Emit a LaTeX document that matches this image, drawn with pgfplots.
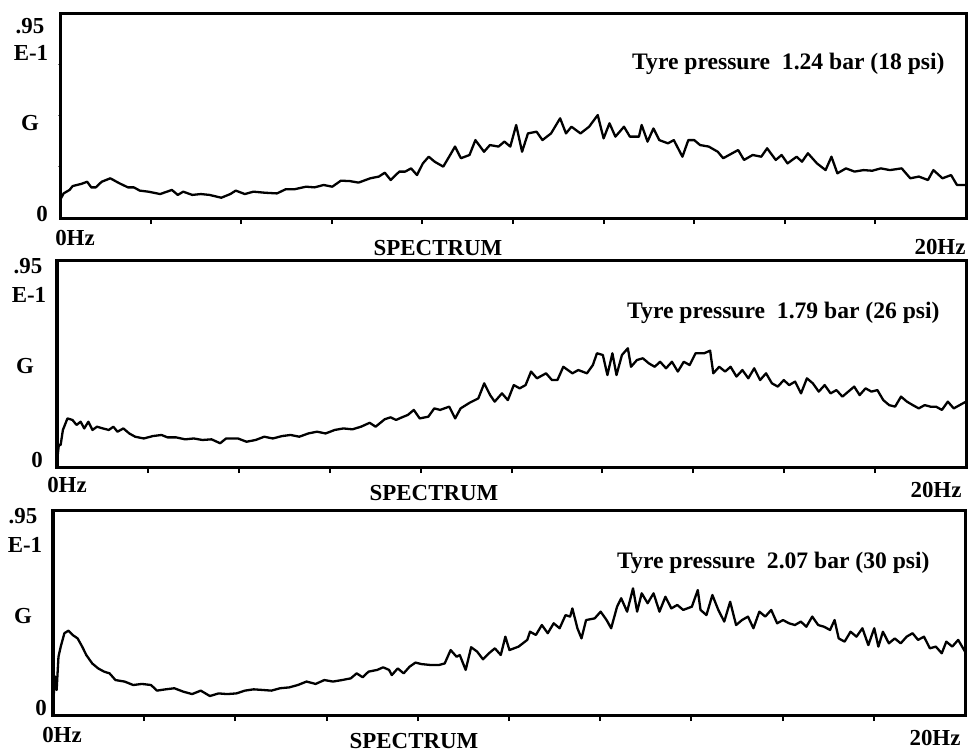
\documentclass[border=0pt]{standalone}
\usepackage{pgfplots}
\pgfplotsset{compat=1.18}
\usepackage{fontspec}
\setmainfont{Liberation Serif}
\pgfplotsset{spec/.style={scale only axis, xmin=0, xmax=20, ymin=0, ymax=0.95,
  axis line style={line width=3bp, black},
  xtick={2,4,...,18}, ytick={0.2375,0.475,0.7125},
  xticklabels={}, yticklabels={},
  tick align=outside, xtick pos=bottom, ytick pos=left,
  major tick length=6bp,
  xtick style={line width=2bp, black},
  ytick style={line width=1bp, black!55, /pgfplots/major tick length=2bp},
  anchor=south west}}
\newcommand{\lbl}{\fontsize{23}{26}\selectfont\bfseries}
\newcommand{\tyre}{\fontsize{23.7}{26}\selectfont\bfseries}
\begin{document}
\begin{tikzpicture}
\useasboundingbox (0,0) rectangle (972bp,-752bp);
% ---------- Panel 1 ----------
\begin{axis}[spec, at={(60bp,-218bp)}, width=906bp, height=205bp]
\addplot[black, line width=2.3bp, line join=round, no marks] table {
x y
0 0.083
0.08 0.114
0.21 0.130
0.28 0.148
0.47 0.158
0.60 0.168
0.69 0.142
0.79 0.142
0.92 0.168
1.11 0.184
1.31 0.161
1.50 0.142
1.63 0.142
1.76 0.127
1.95 0.122
2.21 0.111
2.47 0.130
2.60 0.107
2.72 0.122
2.92 0.107
3.11 0.111
3.30 0.107
3.56 0.094
3.76 0.111
3.88 0.127
4.08 0.111
4.27 0.122
4.53 0.117
4.79 0.114
4.98 0.133
5.17 0.133
5.43 0.145
5.62 0.142
5.82 0.153
6.01 0.145
6.20 0.173
6.40 0.171
6.59 0.164
6.85 0.184
7.04 0.192
7.17 0.210
7.30 0.176
7.49 0.215
7.62 0.215
7.75 0.230
7.88 0.199
8.01 0.253
8.14 0.284
8.27 0.261
8.46 0.238
8.59 0.284
8.72 0.331
8.85 0.277
9.04 0.292
9.17 0.361
9.36 0.307
9.49 0.338
9.68 0.331
9.81 0.354
9.94 0.331
10.07 0.431
10.20 0.307
10.33 0.392
10.52 0.400
10.65 0.361
10.84 0.392
11.04 0.462
11.17 0.392
11.29 0.423
11.49 0.392
11.68 0.423
11.87 0.477
12.00 0.369
12.13 0.439
12.26 0.377
12.45 0.423
12.58 0.377
12.78 0.377
12.84 0.431
12.97 0.354
13.10 0.415
13.23 0.361
13.42 0.346
13.55 0.361
13.74 0.284
13.87 0.361
14.00 0.361
14.13 0.338
14.32 0.331
14.52 0.307
14.64 0.277
14.77 0.292
14.97 0.315
15.10 0.269
15.29 0.292
15.48 0.284
15.61 0.323
15.80 0.269
15.93 0.292
16.06 0.253
16.26 0.284
16.38 0.261
16.51 0.300
16.71 0.253
16.90 0.222
17.03 0.284
17.16 0.207
17.35 0.230
17.54 0.215
17.74 0.222
17.93 0.219
18.12 0.230
18.32 0.222
18.58 0.230
18.77 0.184
18.96 0.192
19.16 0.176
19.28 0.222
19.48 0.184
19.67 0.199
19.80 0.153
20.00 0.153
};
\end{axis}
% ---------- Panel 2 ----------
\begin{axis}[spec, at={(57bp,-467bp)}, width=909bp, height=207bp]
\addplot[black, line width=2.3bp, line join=round, no marks] table {
x y
0 0.002
0.00 0.024
0.04 0.101
0.08 0.101
0.13 0.170
0.23 0.223
0.34 0.216
0.43 0.193
0.52 0.208
0.60 0.177
0.69 0.208
0.78 0.170
0.88 0.185
1.01 0.177
1.14 0.170
1.24 0.185
1.33 0.162
1.46 0.177
1.59 0.154
1.72 0.139
1.91 0.131
2.11 0.142
2.30 0.147
2.43 0.136
2.62 0.136
2.82 0.127
3.01 0.131
3.20 0.124
3.40 0.127
3.59 0.109
3.72 0.131
3.98 0.131
4.17 0.116
4.37 0.124
4.56 0.139
4.75 0.131
4.95 0.142
5.14 0.147
5.33 0.139
5.53 0.154
5.72 0.162
5.91 0.154
6.11 0.170
6.30 0.177
6.50 0.173
6.69 0.185
6.88 0.203
7.01 0.185
7.21 0.219
7.34 0.228
7.46 0.216
7.59 0.228
7.72 0.239
7.85 0.262
7.98 0.223
8.17 0.231
8.30 0.269
8.43 0.262
8.63 0.277
8.76 0.223
8.88 0.269
9.08 0.295
9.27 0.315
9.40 0.384
9.53 0.330
9.63 0.300
9.79 0.338
9.92 0.307
10.05 0.376
10.18 0.361
10.31 0.376
10.43 0.438
10.56 0.407
10.76 0.430
10.89 0.399
11.01 0.399
11.14 0.460
11.34 0.430
11.47 0.445
11.66 0.430
11.79 0.468
11.88 0.522
12.01 0.514
12.11 0.422
12.22 0.522
12.31 0.422
12.43 0.514
12.56 0.545
12.63 0.460
12.76 0.491
12.89 0.499
13.02 0.476
13.15 0.460
13.27 0.483
13.40 0.453
13.53 0.483
13.66 0.438
13.79 0.483
13.92 0.468
14.05 0.522
14.24 0.522
14.37 0.534
14.44 0.430
14.57 0.460
14.70 0.438
14.82 0.460
14.95 0.415
15.08 0.445
15.21 0.407
15.34 0.453
15.47 0.399
15.60 0.430
15.73 0.384
15.86 0.369
15.99 0.399
16.11 0.376
16.24 0.392
16.37 0.338
16.50 0.407
16.63 0.384
16.76 0.346
16.89 0.376
17.02 0.338
17.15 0.353
17.28 0.323
17.41 0.346
17.54 0.369
17.66 0.330
17.79 0.361
17.92 0.346
18.05 0.353
18.18 0.307
18.31 0.284
18.44 0.277
18.57 0.323
18.70 0.300
18.83 0.284
18.96 0.269
19.09 0.284
19.22 0.277
19.34 0.277
19.47 0.262
19.60 0.300
19.73 0.269
19.86 0.284
20.00 0.300
};
\end{axis}
% ---------- Panel 3 ----------
\begin{axis}[spec, at={(53bp,-715bp)}, width=912bp, height=205bp]
\addplot[black, line width=2.3bp, line join=round, no marks] table {
x y
0 0.054
0.05 0.178
0.08 0.116
0.12 0.270
0.17 0.317
0.25 0.379
0.34 0.391
0.43 0.371
0.54 0.355
0.64 0.317
0.73 0.278
0.86 0.239
0.99 0.216
1.12 0.201
1.24 0.193
1.37 0.162
1.57 0.155
1.76 0.139
1.95 0.144
2.15 0.139
2.28 0.113
2.47 0.119
2.66 0.124
2.86 0.108
3.05 0.097
3.24 0.113
3.44 0.088
3.63 0.100
3.82 0.097
4.02 0.100
4.21 0.113
4.40 0.119
4.60 0.116
4.79 0.113
4.98 0.124
5.18 0.128
5.37 0.139
5.56 0.155
5.76 0.144
5.95 0.162
6.14 0.155
6.34 0.162
6.53 0.170
6.66 0.193
6.79 0.175
6.92 0.201
7.11 0.209
7.24 0.221
7.37 0.209
7.43 0.185
7.56 0.216
7.69 0.193
7.82 0.224
7.95 0.243
8.08 0.236
8.27 0.232
8.47 0.232
8.59 0.239
8.72 0.301
8.85 0.270
8.92 0.278
9.05 0.209
9.17 0.314
9.30 0.294
9.43 0.258
9.56 0.286
9.69 0.309
9.82 0.278
9.92 0.363
10.01 0.301
10.21 0.317
10.40 0.348
10.46 0.386
10.59 0.371
10.72 0.417
10.85 0.379
10.98 0.425
11.11 0.402
11.24 0.463
11.34 0.456
11.39 0.494
11.50 0.402
11.59 0.355
11.69 0.440
11.88 0.448
12.01 0.479
12.14 0.440
12.24 0.402
12.37 0.502
12.46 0.541
12.59 0.479
12.72 0.587
12.81 0.479
12.91 0.564
13.04 0.518
13.17 0.564
13.30 0.479
13.43 0.548
13.56 0.494
13.69 0.510
13.82 0.487
14.01 0.502
14.14 0.579
14.20 0.487
14.33 0.463
14.46 0.556
14.59 0.487
14.72 0.433
14.85 0.525
14.98 0.417
15.11 0.440
15.24 0.456
15.36 0.402
15.49 0.479
15.62 0.456
15.75 0.487
15.88 0.425
16.01 0.440
16.14 0.425
16.27 0.417
16.40 0.433
16.52 0.409
16.65 0.456
16.78 0.417
16.91 0.409
17.04 0.394
17.14 0.440
17.23 0.355
17.36 0.340
17.49 0.386
17.62 0.363
17.75 0.402
17.88 0.324
18.01 0.402
18.10 0.317
18.20 0.386
18.33 0.332
18.46 0.355
18.59 0.332
18.72 0.363
18.85 0.379
18.97 0.348
19.10 0.363
19.23 0.309
19.36 0.317
19.49 0.286
19.59 0.340
19.72 0.317
19.85 0.348
20.00 0.294
};
\end{axis}
% ---------- Labels ----------
\begin{scope}[every node/.style={inner sep=0pt, font=\lbl}]
% panel 1
\node[anchor=base] at (30bp,-33bp) {.95};
\node[anchor=base] at (31bp,-60bp) {E-1};
\node[anchor=base] at (30bp,-130bp) {G};
\node[anchor=base] at (42bp,-221bp) {0};
\node[anchor=base] at (75bp,-245bp) {0Hz};
\node[anchor=base] at (438bp,-255bp) {SPECTRUM};
\node[anchor=base] at (940bp,-254bp) {20Hz};
\node[anchor=base west, font=\tyre] at (632bp,-69bp) {Tyre pressure\ \ 1.24 bar (18 psi)};
% panel 2
\node[anchor=base] at (28bp,-273bp) {.95};
\node[anchor=base] at (29bp,-302bp) {E-1};
\node[anchor=base] at (25bp,-373bp) {G};
\node[anchor=base] at (37bp,-467bp) {0};
\node[anchor=base] at (67bp,-492bp) {0Hz};
\node[anchor=base] at (434bp,-500bp) {SPECTRUM};
\node[anchor=base] at (936bp,-497bp) {20Hz};
\node[anchor=base west, font=\tyre] at (627bp,-318bp) {Tyre pressure\ \ 1.79 bar (26 psi)};
% panel 3
\node[anchor=base] at (23bp,-523bp) {.95};
\node[anchor=base] at (25bp,-552bp) {E-1};
\node[anchor=base] at (23bp,-623bp) {G};
\node[anchor=base] at (41bp,-715bp) {0};
\node[anchor=base] at (62bp,-742bp) {0Hz};
\node[anchor=base] at (414bp,-748bp) {SPECTRUM};
\node[anchor=base] at (935bp,-745bp) {20Hz};
\node[anchor=base west, font=\tyre] at (617bp,-568bp) {Tyre pressure\ \ 2.07 bar (30 psi)};
\end{scope}
\end{tikzpicture}
\end{document}
